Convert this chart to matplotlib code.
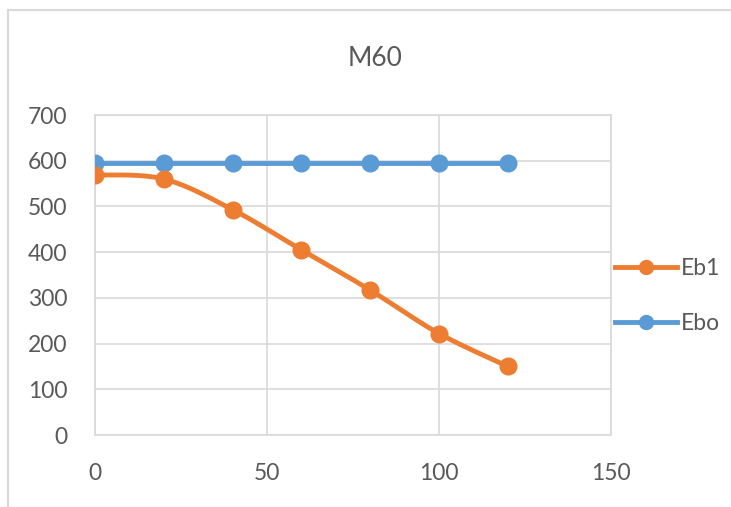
import numpy as np
import matplotlib
matplotlib.use("Agg")
import matplotlib.pyplot as plt
from matplotlib.lines import Line2D

x_vals = [0, 20, 40, 60, 80, 100, 120]
eb1 = [569, 560, 493, 405, 317, 222, 150]
ebo = [594, 594, 594, 594, 594, 594, 594]
series_names = ["Eb1", "Ebo"]
title = "M60"
x_ticks = [0, 50, 100, 150]
y_ticks = [0, 100, 200, 300, 400, 500, 600, 700]

ORANGE = "#ED7D31"
BLUE = "#5B9BD5"
GRID = "#D9D9D9"
TEXT = "#595959"

def catmull_rom(xs, ys, n=30):
    xs = np.asarray(xs, float); ys = np.asarray(ys, float)
    P = np.column_stack([xs, ys])
    P = np.vstack([P[0], P, P[-1]])
    out = []
    for i in range(1, len(P) - 2):
        p0, p1, p2, p3 = P[i-1], P[i], P[i+1], P[i+2]
        t = np.linspace(0, 1, n)[:, None]
        m1 = (p2 - p0) / 2
        m2 = (p3 - p1) / 2
        h00 = 2*t**3 - 3*t**2 + 1
        h10 = t**3 - 2*t**2 + t
        h01 = -2*t**3 + 3*t**2
        h11 = t**3 - t**2
        seg = h00*p1 + h10*m1 + h01*p2 + h11*m2
        out.append(seg if i == len(P) - 3 else seg[:-1])
    out = np.vstack(out)
    return out[:, 0], out[:, 1]

plt.rcParams['font.family'] = ['Lato', 'DejaVu Sans']

W, H = 731, 507
fig = plt.figure(figsize=(W/100, H/100), dpi=100)
ax = fig.add_axes([95/W, 1 - 435/H, (611-95)/W, (435-115)/H])

LW = 3.5
MS = 12
sx, sy = catmull_rom(x_vals, eb1)
ax.plot(sx, sy, color=ORANGE, lw=LW, solid_capstyle='round', zorder=3)
ax.plot(x_vals, eb1, 'o', color=ORANGE, ms=MS, zorder=4)
ax.plot(x_vals, ebo, '-o', color=BLUE, lw=LW, ms=MS, zorder=3)

ax.set_xlim(0, 150)
ax.set_ylim(0, 700)
ax.set_xticks(x_ticks)
ax.set_yticks(y_ticks)
ax.grid(True, color=GRID, lw=1.2)
ax.set_axisbelow(True)
for s in ax.spines.values():
    s.set_color(GRID)
    s.set_linewidth(1.2)
ax.tick_params(length=0, labelsize=16.5, labelcolor=TEXT)
ax.tick_params(axis='x', pad=20)
ax.tick_params(axis='y', pad=20)

fig.text(375/W, 1 - 58/H, title, ha='center', va='center', fontsize=19, color=TEXT)

handles = [Line2D([], [], color=ORANGE, lw=LW, marker='o', ms=10),
           Line2D([], [], color=BLUE, lw=LW, marker='o', ms=10)]
fig.legend(handles, series_names, loc='center left', bbox_to_anchor=(606/W, 1 - 296/H),
           frameon=False, fontsize=16.5, labelcolor=TEXT, handlelength=2.7,
           labelspacing=1.5, handletextpad=0.15, borderaxespad=0)

# outer chart frame (top and left edges visible)
fig.add_artist(Line2D([8/W, 8/W], [0, 1 - 10/H], color=GRID, lw=1.5, transform=fig.transFigure))
fig.add_artist(Line2D([8/W, 1], [1 - 10/H, 1 - 10/H], color=GRID, lw=1.5, transform=fig.transFigure))

fig.savefig("out.png", dpi=100, facecolor='white')
